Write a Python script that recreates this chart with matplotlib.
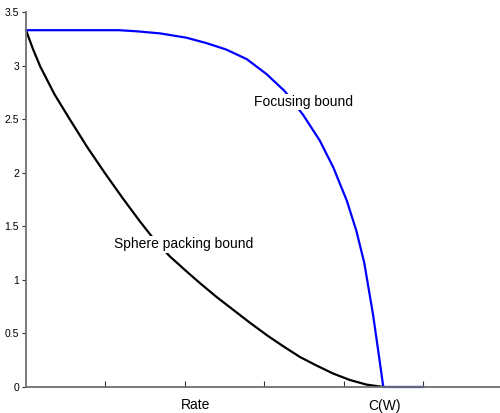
import numpy as np
import matplotlib
matplotlib.use("Agg")
import matplotlib.pyplot as plt
import matplotlib.transforms as mtransforms

plt.rcParams['font.family'] = ['Liberation Sans', 'DejaVu Sans']

# sphere packing bound (black)
sp_rate = [0.0, 0.09, 0.18, 0.36, 0.55, 0.77, 0.99, 1.22, 1.43, 1.60, 1.81, 2.02,
           2.19, 2.40, 2.61, 2.82, 3.04, 3.24, 3.45, 3.66, 3.87, 4.08, 4.29, 4.50]
sp_exp = [3.33, 3.15, 2.99, 2.73, 2.50, 2.24, 2.00, 1.76, 1.55, 1.39, 1.22, 1.08,
          0.97, 0.84, 0.72, 0.60, 0.48, 0.38, 0.28, 0.20, 0.125, 0.065, 0.022, 0.0]

# focusing bound (blue)
fb_rate = [0.0, 1.17, 1.39, 1.69, 2.02, 2.27, 2.52, 2.78, 3.03, 3.26, 3.49, 3.70,
           3.87, 4.04, 4.16, 4.26, 4.37, 4.43, 4.47, 4.50, 5.0]
fb_exp = [3.33, 3.33, 3.32, 3.30, 3.26, 3.21, 3.15, 3.06, 2.92, 2.76, 2.54, 2.30,
          2.05, 1.74, 1.46, 1.16, 0.68, 0.37, 0.16, 0.0, 0.0]

yticks = [0, 0.5, 1, 1.5, 2, 2.5, 3, 3.5]
ytick_labels = ['0', '0.5', '1', '1.5', '2', '2.5', '3', '3.5']
xticks = [1, 2, 3, 4, 5]

fig = plt.figure(figsize=(5.0, 4.13), dpi=100)
ax = fig.add_axes([0.052, 0.063, 0.948, 0.908])

ax.plot(sp_rate, sp_exp, color='black', lw=1.6, zorder=2,
        solid_joinstyle='round')
ax.plot(fb_rate, fb_exp, color='#0000ff', lw=1.6, zorder=2, clip_on=False,
        solid_joinstyle='round')

ax.set_xlim(0, 5.97)
ax.set_ylim(0, 3.5)

ax.spines['top'].set_visible(False)
ax.spines['right'].set_visible(False)
for s in ['left', 'bottom']:
    ax.spines[s].set_color('#6e6e6e')
    ax.spines[s].set_linewidth(1.3)

ax.set_yticks(yticks)
ax.set_yticklabels(ytick_labels)
ax.set_xticks(xticks)
ax.set_xticklabels([])
ax.tick_params(axis='y', direction='out', length=3, width=0.8, labelsize=7.5,
               pad=2, color='#333333')
ax.tick_params(axis='x', direction='in', length=4, width=0.8, color='#333333')

box = dict(facecolor='white', edgecolor='none', pad=1)
ax.text(3.50, 2.66, 'Focusing bound', fontsize=10, ha='center', va='center',
        bbox=box, zorder=3)
ax.text(1.98, 1.33, 'Sphere packing bound', fontsize=10, ha='center', va='center',
        bbox=box, zorder=3)

trans = mtransforms.blended_transform_factory(ax.transData, ax.transAxes)
ax.text(2.13, -0.048, 'Rate', fontsize=10, ha='center', va='center', transform=trans)
ax.text(4.51, -0.05, 'C(W)', fontsize=10, ha='center', va='center', transform=trans)

fig.savefig('out.png', dpi=100)
